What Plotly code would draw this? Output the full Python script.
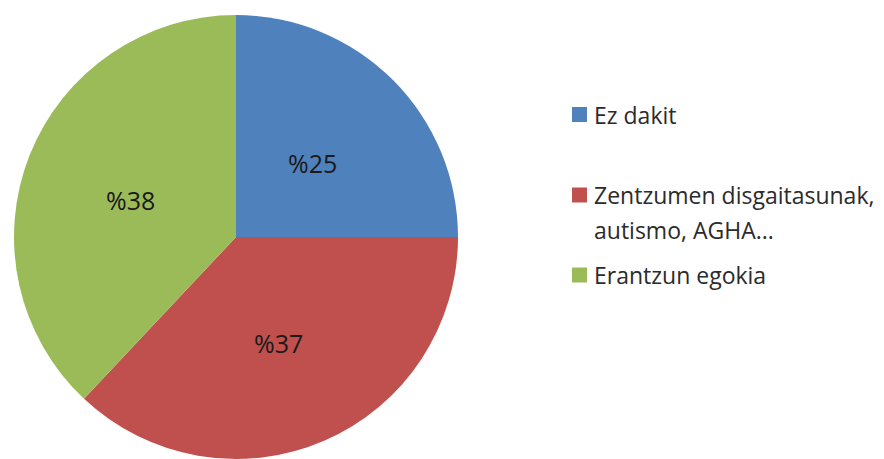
import numpy as np
import plotly.graph_objects as go

categories = ["Ez dakit", "Zentzumen disgaitasunak, autismo, AGHA...", "Erantzun egokia"]
legend_lines = [["Ez dakit"], ["Zentzumen disgaitasunak,", "autismo, AGHA..."], ["Erantzun egokia"]]
values = [25, 37, 38]
colors = ["#4F81BD", "#C0504D", "#9BBB59"]

W, H = 884, 459
OFF = 8  # page body margin offset


def px(x):
    return (x - OFF) / W


def py(y):
    return 1 - (y - OFF) / H


# pie box in page pixels
PX0, PX1, PY0, PY1 = 14, 458, 15, 459
fig = go.Figure()
fig.add_trace(go.Pie(
    labels=categories, values=values, sort=False, direction="clockwise", rotation=0,
    marker=dict(colors=colors, line=dict(color="white", width=0)),
    textinfo="none",
    domain=dict(x=[px(PX0), px(PX1)], y=[py(PY1), py(PY0)]),
    showlegend=False, hoverinfo="label+percent",
))

# data labels at half radius, at each slice's mid angle
cx, cy = (PX0 + PX1) / 2, (PY0 + PY1) / 2 - 1
r = (PX1 - PX0) / 2
vals = np.array(values, dtype=float)
frac = vals / vals.sum()
mid = np.cumsum(frac) - frac / 2
for v, m in zip(values, mid):
    th = 2 * np.pi * m
    lx = cx + 0.5 * r * np.sin(th) - 2
    ly = cy - 0.5 * r * np.cos(th) + 5
    fig.add_annotation(xref="paper", yref="paper", x=px(lx), y=py(ly),
                       text="%" + str(v), showarrow=False, xanchor="center", yanchor="middle",
                       font=dict(family="Open Sans", size=25, color="#1a1a1a"))

# custom legend
marker_y = [114.5, 195, 275]
line_gap = 35
for lines, col, yy in zip(legend_lines, colors, marker_y):
    fig.add_shape(type="rect", xref="paper", yref="paper",
                  x0=px(572), x1=px(587), y0=py(yy - 7.5), y1=py(yy + 7.5),
                  fillcolor=col, line=dict(width=0))
    for i, t in enumerate(lines):
        fig.add_annotation(xref="paper", yref="paper", x=px(592), y=py(yy + i * line_gap),
                           text=t, showarrow=False, xanchor="left", yanchor="middle", align="left",
                           font=dict(family="Open Sans", size=23, color="#2b2b2b"))

fig.update_layout(width=W, height=H, margin=dict(l=0, r=0, t=0, b=0),
                  paper_bgcolor="white", plot_bgcolor="white")
fig.write_html("out.html")
